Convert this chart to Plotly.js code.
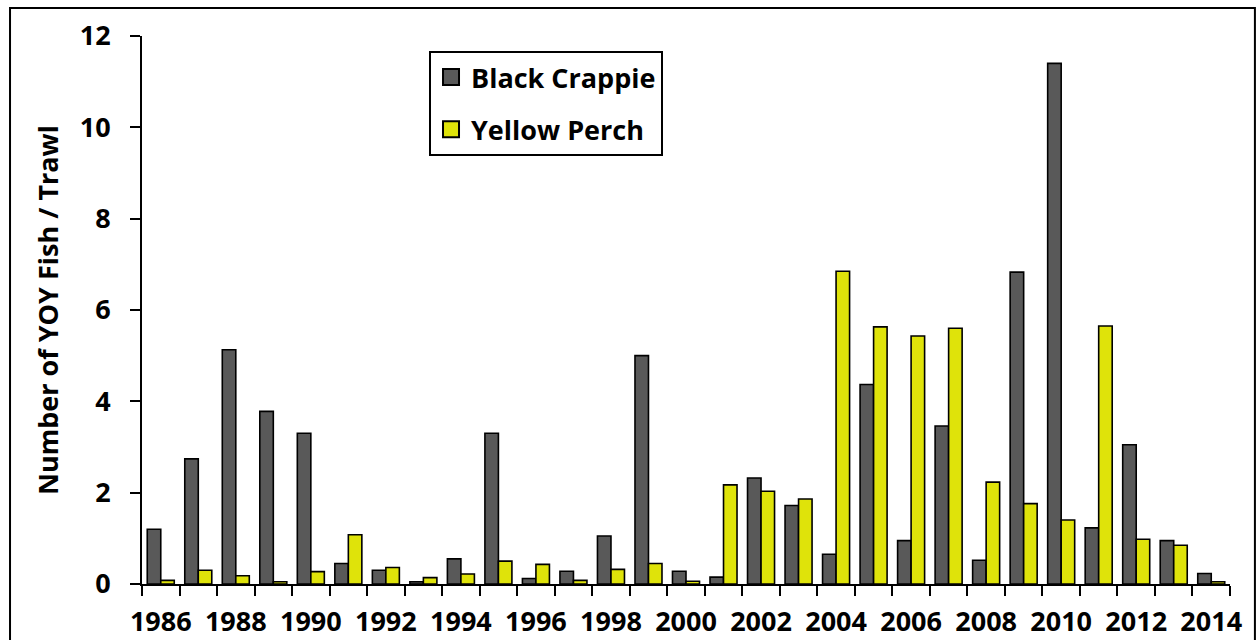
<!DOCTYPE html>
<html>
<head>
<meta charset="utf-8">
<script src="https://cdn.plot.ly/plotly-3.0.1.min.js"></script>
<style>
html,body{margin:0;padding:0;background:#fff;}
#chart{width:1257px;height:640px;}
</style>
</head>
<body>
<div id="chart"></div>
<script>
const years = [1986,1987,1988,1989,1990,1991,1992,1993,1994,1995,1996,1997,1998,1999,2000,2001,2002,2003,2004,2005,2006,2007,2008,2009,2010,2011,2012,2013,2014];
const blackCrappie = [1.2,2.74,5.13,3.78,3.3,0.45,0.3,0.05,0.55,3.3,0.12,0.28,1.05,5.0,0.28,0.15,2.32,1.72,0.65,4.37,0.95,3.46,0.52,6.83,11.4,1.23,3.05,0.95,0.23];
const yellowPerch = [0.08,0.3,0.18,0.05,0.27,1.08,0.36,0.14,0.22,0.5,0.43,0.08,0.32,0.45,0.06,2.17,2.03,1.86,6.85,5.63,5.43,5.6,2.23,1.76,1.4,5.65,0.98,0.85,0.05];
const tickYears = [1986,1988,1990,1992,1994,1996,1998,2000,2002,2004,2006,2008,2010,2012,2014];
const seriesNames = ["Black Crappie","Yellow Perch"];
const seriesColors = ["#595959","#DFE30A"];

const FONT = "Open Sans, Noto Sans, Liberation Sans, sans-serif";

const traces = [
  {type:"bar", x:years, y:blackCrappie, name:seriesNames[0], legendgroup:"a", showlegend:false,
   marker:{color:seriesColors[0], line:{color:"#000", width:1.6}}},
  {type:"bar", x:years, y:yellowPerch, name:seriesNames[1], legendgroup:"b", showlegend:false,
   marker:{color:seriesColors[1], line:{color:"#000", width:1.6}}},
  {type:"scatter", mode:"markers", x:[null], y:[null], name:seriesNames[0], legendgroup:"a",
   marker:{symbol:"square", size:16, color:seriesColors[0], line:{color:"#000", width:2}}},
  {type:"scatter", mode:"markers", x:[null], y:[null], name:seriesNames[1], legendgroup:"b",
   marker:{symbol:"square", size:16, color:seriesColors[1], line:{color:"#000", width:2}}}
];

const layout = {
  width:1257, height:640,
  margin:{l:142, r:27, t:36, b:56},
  paper_bgcolor:"#fff", plot_bgcolor:"#fff",
  barmode:"group", bargap:0.28, bargroupgap:0,
  font:{family:FONT, color:"#000"},
  xaxis:{
    range:[1985.5,2014.5], tickvals:tickYears, ticktext:tickYears.map(String),
    ticks:"", showgrid:false, zeroline:false,
    showline:true, linecolor:"#000", linewidth:2,
    tickfont:{size:27, family:FONT, weight:"bold"},
    ticklabelstandoff:13,
    minor:{tick0:1985.5, dtick:1, ticks:"outside", ticklen:10, tickwidth:2, tickcolor:"#000", showgrid:false}
  },
  yaxis:{
    range:[0,12], dtick:2, tick0:0,
    ticks:"outside", ticklen:10, tickwidth:2, tickcolor:"#000",
    showgrid:false, zeroline:false,
    showline:true, linecolor:"#000", linewidth:2,
    tickfont:{size:27, family:FONT, weight:"bold"},
    ticklabelstandoff:14,
    title:{text:"Number of YOY Fish / Trawl", font:{size:27, family:FONT, weight:"bold"}, standoff:13}
  },
  showlegend:true,
  legend:{
    x:0.2638, y:0.9726, xanchor:"left", yanchor:"top",
    bordercolor:"#000", borderwidth:2, bgcolor:"#fff",
    font:{size:27, family:FONT, weight:"bold"},
    tracegroupgap:14, traceorder:"grouped", itemwidth:30
  },
  shapes:[
    {type:"rect", xref:"paper", yref:"paper", x0:-0.1213, x1:1.0229, y0:-0.12, y1:1.0511,
     line:{color:"#000", width:2}, fillcolor:"rgba(0,0,0,0)", layer:"below"}
  ]
};

Plotly.newPlot("chart", traces, layout, {displayModeBar:false, staticPlot:true});
</script>
</body>
</html>
